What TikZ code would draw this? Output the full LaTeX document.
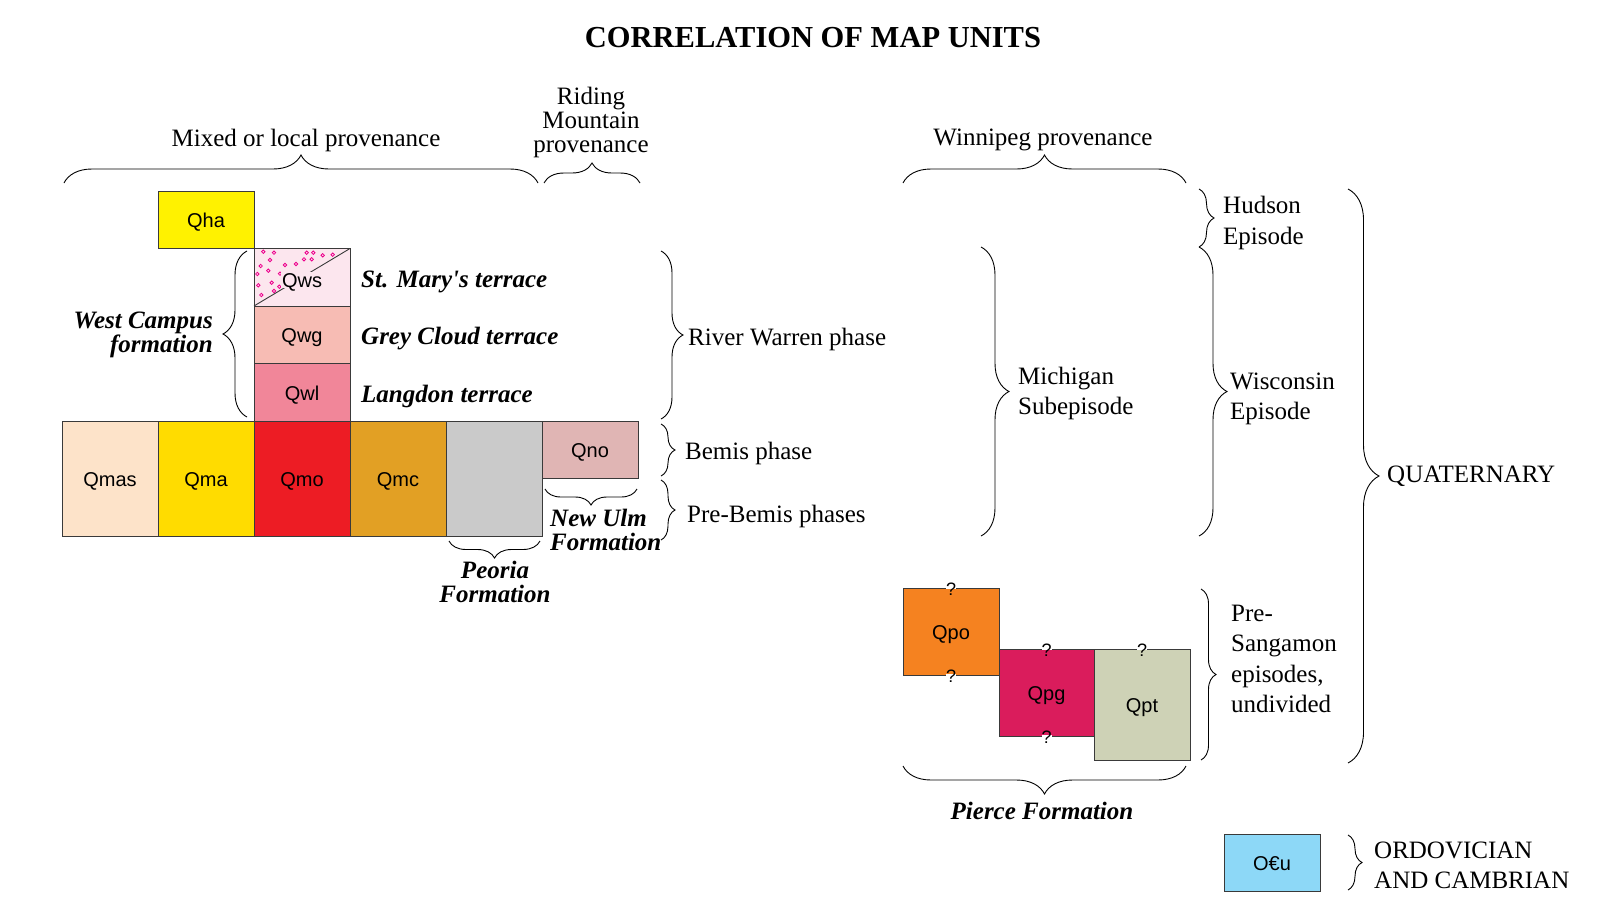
\documentclass[tikz,border=0pt]{standalone}
\usepackage{fontspec}
\setmainfont{Liberation Serif}
\newfontfamily\plainserif{Liberation Serif}
\newfontfamily\boxfont{Liberation Sans}
\usetikzlibrary{decorations.pathreplacing}
\definecolor{cQha}{HTML}{FFF200}
\definecolor{cQws}{HTML}{FCE6EE}
\definecolor{cDot}{HTML}{EC008C}
\definecolor{cQwg}{HTML}{F7BCB4}
\definecolor{cQwl}{HTML}{F18699}
\definecolor{cQmas}{HTML}{FDE3C9}
\definecolor{cQma}{HTML}{FFDC00}
\definecolor{cQmo}{HTML}{ED1C24}
\definecolor{cQmc}{HTML}{E2A024}
\definecolor{cGray}{HTML}{CACACA}
\definecolor{cQno}{HTML}{E0B5B4}
\definecolor{cQpo}{HTML}{F58220}
\definecolor{cQpg}{HTML}{DA1C5C}
\definecolor{cQpt}{HTML}{CED2B6}
\definecolor{cOCu}{HTML}{8DD8F7}
\definecolor{cEdge}{HTML}{3A3A3A}
\begin{document}
\begin{tikzpicture}[x=1pt,y=-1pt,
  unitbox/.style={draw=cEdge, line width=0.9pt, minimum width=96pt, minimum height=57.5pt,
    inner sep=0pt, outer sep=0pt, anchor=north west, text height=16pt, text depth=0pt,
    font=\boxfont\fontsize{20}{24}\selectfont},
  txt/.style={font=\fontsize{25}{30}\selectfont, inner sep=0pt},
  bitxt/.style={font=\bfseries\itshape\fontsize{25}{24}\selectfont, inner sep=0pt},
  brc/.style={decorate, line width=0.9pt, decoration={brace, amplitude=#1}},
  qm/.style={font=\boxfont\fontsize{18}{20}\selectfont, inner sep=0pt},
  gap/.style={white, line width=1.6pt},
  dot/.style={draw=cDot, line width=0.8pt}
]
\useasboundingbox (0,0) rectangle (1616,913);

% title
\node[font=\bfseries\fontsize{30.5}{36}\selectfont, inner sep=0pt] (title) at (813,38) {CORRELATION OF MAP UNITS};

% provenance headers
\node[txt] (mixed) at (306,140) {Mixed or local provenance};
\node[txt, align=center, font=\fontsize{25}{24}\selectfont] (riding) at (591,122) {Riding\\Mountain\\provenance};
\node[txt] (winnipeg) at (1043,140) {Winnipeg provenance};
\coordinate (mxA) at (64,183);  \coordinate (mxB) at (538,183);
\coordinate (rdA) at (544,183); \coordinate (rdB) at (640,183);
\coordinate (wpA) at (903,183); \coordinate (wpB) at (1186,183);
\draw[brc=28pt] (mxA) -- (mxB);
\draw[brc=20pt] (rdA) -- (rdB);
\draw[brc=28pt] (wpA) -- (wpB);

% boxes, left group
\node[unitbox, fill=cQha] (qha) at (158,191) {Qha};
\node[unitbox, fill=cQws] (qws) at (254,248.5) {};
\foreach \px/\py in {263.3/251.7,274/252.7,306.7/252.7,313.3/252.7,322.7/255.3,332.7/254.7,270/260,285/265,296/264,304/259.3,311.7/259.3,260.7/266,268.3/270.7,280/273.7,257.3/274,271.7/282.7,279.3/286.7,258.3/285.3,274/291,261.3/295}
  \draw[dot] (\px,\py) circle (1.7pt);
\draw[line width=0.9pt, cEdge] (qws.south west) -- (qws.north east);
\node[font=\boxfont\fontsize{20}{24}\selectfont, fill=cQws, inner sep=1pt, text height=14.3pt, text depth=0pt] (qwslab) at ([yshift=-3pt]qws.center) {Qws};
\node[unitbox, fill=cQwg] (qwg) at (254,306) {Qwg};
\node[unitbox, fill=cQwl] (qwl) at (254,363.5) {Qwl};

\node[unitbox, fill=cQmas, minimum height=115pt] (qmas) at (62,421) {Qmas};
\node[unitbox, fill=cQma, minimum height=115pt] (qma) at (158,421) {Qma};
\node[unitbox, fill=cQmo, minimum height=115pt] (qmo) at (254,421) {Qmo};
\node[unitbox, fill=cQmc, minimum height=115pt] (qmc) at (350,421) {Qmc};
\node[unitbox, fill=cGray, minimum height=115pt] (qpe) at (446,421) {};
\node[unitbox, fill=cQno] (qno) at (542,421) {Qno};

% left labels
\node[bitxt, anchor=west, font=\plainserif\bfseries\itshape\fontsize{25}{24}\selectfont] (stmary) at (361,282) {St. Mary's terrace};
\node[bitxt, anchor=west] (greycloud) at (361,339) {Grey Cloud terrace};
\node[bitxt, anchor=west] (langdon) at (361,396) {Langdon terrace};
\node[bitxt, anchor=east, align=right] (westcampus) at (213,335) {West Campus\\formation};
\coordinate (wcA) at (247,417); \coordinate (wcB) at (247,251);
\draw[brc=24pt] (wcA) -- (wcB);

\coordinate (rwA) at (661,251); \coordinate (rwB) at (661,419);
\draw[brc=22pt] (rwA) -- (rwB);
\node[txt, anchor=west] (riverwarren) at (688,339) {River Warren phase};
\coordinate (bmA) at (661,424); \coordinate (bmB) at (661,476);
\draw[brc=14pt] (bmA) -- (bmB);
\node[txt, anchor=west] (bemis) at (685,453) {Bemis phase};
\coordinate (pbA) at (661,480); \coordinate (pbB) at (661,540);
\draw[brc=14pt] (pbA) -- (pbB);
\node[txt, anchor=west] (prebemis) at (687,516) {Pre-Bemis phases};

\coordinate (nuA) at (637,489); \coordinate (nuB) at (545,489);
\draw[brc=16pt] (nuA) -- (nuB);
\node[bitxt, anchor=west, align=left] (newulm) at (550,530) {New Ulm\\Formation};
\coordinate (peA) at (540,541); \coordinate (peB) at (449,541);
\draw[brc=17pt] (peA) -- (peB);
\node[bitxt, align=center] (peoria) at (495,582) {Peoria\\Formation};

% right side braces and labels
\coordinate (hdA) at (1199,189); \coordinate (hdB) at (1199,247);
\draw[brc=15pt] (hdA) -- (hdB);
\node[txt, anchor=west, align=left, font=\fontsize{25}{31}\selectfont] (hudson) at (1223,222.5) {Hudson\\Episode};
\coordinate (miA) at (981,247); \coordinate (miB) at (981,536);
\draw[brc=28pt] (miA) -- (miB);
\node[txt, anchor=west, align=left] (michigan) at (1018,393) {Michigan\\Subepisode};
\coordinate (wiA) at (1199,247); \coordinate (wiB) at (1199,536);
\draw[brc=28pt] (wiA) -- (wiB);
\node[txt, anchor=west, align=left] (wisconsin) at (1230,398.5) {Wisconsin\\Episode};
\coordinate (quA) at (1348,189); \coordinate (quB) at (1348,763);
\draw[brc=31pt] (quA) -- (quB);
\node[txt, anchor=west] (quaternary) at (1387,476) {QUATERNARY};
\coordinate (psA) at (1201,589); \coordinate (psB) at (1201,760);
\draw[brc=15pt] (psA) -- (psB);
\node[txt, anchor=west, align=left, font=\fontsize{25}{30.5}\selectfont] (presang) at (1231,659) {Pre-\\Sangamon\\episodes,\\undivided};

% Pierce boxes
\node[unitbox, fill=cQpo, minimum height=87pt] (qpo) at (903,588) {Qpo};
\node[unitbox, fill=cQpg, minimum width=95pt, minimum height=87pt] (qpg) at (999,649) {Qpg};
\node[unitbox, fill=cQpt, minimum height=111pt] (qpt) at (1094,649) {Qpt};
\foreach \nm/\pos in {q1/qpo.north, q2/qpo.south, q3/qpg.north, q4/qpg.south, q5/qpt.north}{
  \draw[gap] ([xshift=-5pt]\pos) -- ([xshift=5pt]\pos);
  \node[qm] (\nm) at ([yshift=-1pt]\pos) {?};
}
\coordinate (piA) at (1186,766); \coordinate (piB) at (903,766);
\draw[brc=28pt] (piA) -- (piB);
\node[bitxt] (pierce) at (1042,811) {Pierce Formation};

% Ordovician and Cambrian
\node[unitbox, fill=cOCu, minimum height=57pt] (ocu) at (1224,834) {O€u};
\coordinate (ocA) at (1348,835); \coordinate (ocB) at (1348,890);
\draw[brc=14pt] (ocA) -- (ocB);
\node[txt, anchor=west, align=left] (ordo) at (1374,865) {ORDOVICIAN\\AND CAMBRIAN};
\end{tikzpicture}
\end{document}
